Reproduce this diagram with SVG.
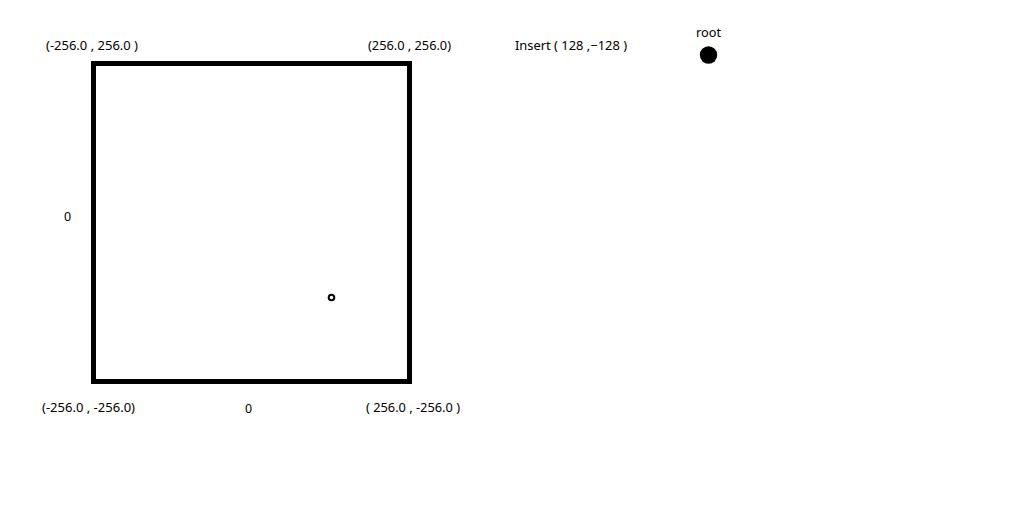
<svg xmlns="http://www.w3.org/2000/svg" width="1024" height="512" viewBox="0 0 1024 512">
<style>
text{font-family:"Noto Sans","Open Sans","Liberation Sans",sans-serif;font-size:12.5px;fill:#000}
</style>
<rect width="1024" height="512" fill="#fff"/>
<g id="square"><rect x="93.5" y="63.5" width="316" height="318" fill="none" stroke="#000" stroke-width="5"/></g>
<g id="point"><circle cx="331.5" cy="297.5" r="2.8" fill="#fff" stroke="#000" stroke-width="2"/></g>
<g id="root"><circle cx="708.5" cy="55" r="8.7" fill="#000"/><text x="696" y="37" textLength="25" lengthAdjust="spacingAndGlyphs">root</text></g>
<g id="labels">
<text x="46" y="50" textLength="92" lengthAdjust="spacingAndGlyphs">(-256.0 , 256.0 )</text>
<text x="368" y="50" textLength="83" lengthAdjust="spacingAndGlyphs">(256.0 , 256.0)</text>
<text x="515" y="50" textLength="112" lengthAdjust="spacingAndGlyphs">Insert ( 128 ,−128 )</text>
<text x="64" y="221">0</text>
<text x="42" y="412" textLength="93" lengthAdjust="spacingAndGlyphs">(-256.0 , -256.0)</text>
<text x="245" y="413">0</text>
<text x="366" y="412" textLength="94" lengthAdjust="spacingAndGlyphs">( 256.0 , -256.0 )</text>
</g>
</svg>
